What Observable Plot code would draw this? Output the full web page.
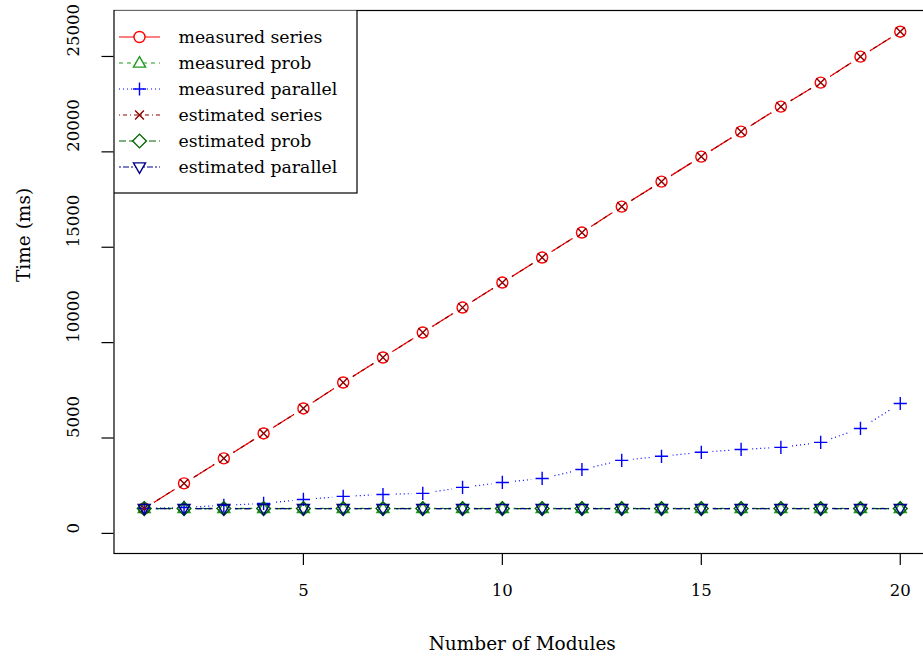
<!DOCTYPE html>
<html>
<head>
<meta charset="utf-8">
<script src="https://cdn.jsdelivr.net/npm/d3@7"></script>
<script src="https://cdn.jsdelivr.net/npm/@observablehq/plot@0.6"></script>
<style>
  html, body { margin: 0; padding: 0; background: #fff; overflow: hidden; }
  #wrap { position: relative; width: 923px; height: 659px; overflow: hidden; }
  #wrap > svg { max-width: none !important; }
</style>
</head>
<body>
<div id="wrap"></div>
<script>
// ---- data ----
const modules = [1,2,3,4,5,6,7,8,9,10,11,12,13,14,15,16,17,18,19,20];
const measuredSeries   = [1310,2620,3930,5240,6550,7910,9220,10530,11840,13150,14460,15770,17130,18440,19750,21060,22370,23630,24990,26300];
const measuredProb     = [1310,1310,1310,1310,1310,1310,1310,1310,1310,1310,1310,1310,1310,1310,1310,1310,1310,1310,1310,1310];
const measuredParallel = [1310,1360,1470,1570,1780,1940,2040,2100,2410,2670,2880,3350,3830,4040,4250,4400,4510,4770,5500,6810];
const estimatedSeries  = [1310,2620,3930,5240,6550,7910,9220,10530,11840,13150,14460,15770,17130,18440,19750,21060,22370,23630,24990,26300];
const estimatedProb    = [1300,1300,1300,1300,1300,1300,1300,1300,1300,1300,1300,1300,1300,1300,1300,1300,1300,1300,1300,1300];
const estimatedParallel= [1300,1300,1300,1300,1300,1300,1300,1300,1300,1300,1300,1300,1300,1300,1300,1300,1300,1300,1300,1300];

const seriesNames = ["measured series","measured prob","measured parallel","estimated series","estimated prob","estimated parallel"];
const seriesValues = [measuredSeries, measuredProb, measuredParallel, estimatedSeries, estimatedProb, estimatedParallel];
const seriesColors = ["#ff0000","#1f9a1f","#0000ff","#8b0000","#006400","#00008b"];
const seriesDash   = ["none","4,4","1,3","1,3,4,3","7,3","2,2,6,2"];
const seriesPch    = ["circle","triUp","plus","cross","diamond","triDown"];

const xTicks = [5,10,15,20];
const yTicks = [0,5000,10000,15000,20000,25000];
const xLabel = "Number of Modules";
const yLabel = "Time (ms)";

// ---- R-like plotting symbols ----
const rad = s => Math.sqrt(s / Math.PI);
const symbols = {
  circle:  {draw(c, s){ const r = rad(s); c.moveTo(r, 0); c.arc(0, 0, r, 0, 2*Math.PI); c.closePath(); }},
  triUp:   {draw(c, s){ const r = rad(s); c.moveTo(0, -1.15*r); c.lineTo(1.1*r, 0.75*r); c.lineTo(-1.1*r, 0.75*r); c.closePath(); }},
  triDown: {draw(c, s){ const r = rad(s); c.moveTo(0, 1.15*r); c.lineTo(1.1*r, -0.75*r); c.lineTo(-1.1*r, -0.75*r); c.closePath(); }},
  plus:    {draw(c, s){ const r = rad(s)*1.2; c.moveTo(-r, 0); c.lineTo(r, 0); c.moveTo(0, -r); c.lineTo(0, r); }},
  cross:   {draw(c, s){ const r = rad(s)*0.8; c.moveTo(-r, -r); c.lineTo(r, r); c.moveTo(-r, r); c.lineTo(r, -r); }},
  diamond: {draw(c, s){ const r = rad(s)*1.25; c.moveTo(0, -r); c.lineTo(r, 0); c.lineTo(0, r); c.lineTo(-r, 0); c.closePath(); }}
};

// ---- long table built from the arrays ----
const rows = [];
seriesNames.forEach((name, k) => {
  modules.forEach((m, i) => rows.push({series: name, k, modules: m, time: seriesValues[k][i]}));
});

const FONT = "DejaVu Serif";
const marks = [];
// lines
seriesNames.forEach((name, k) => {
  marks.push(Plot.line(rows.filter(d => d.k === k), {
    x: "modules", y: "time", stroke: seriesColors[k], strokeWidth: 1.2,
    strokeDasharray: seriesDash[k], strokeLinecap: "butt"
  }));
});
// gaps around points (R type = "b")
marks.push(Plot.dot(rows, {x: "modules", y: "time", r: 11, fill: "white", fillOpacity: 1, stroke: "none"}));
// points
seriesNames.forEach((name, k) => {
  marks.push(Plot.dot(rows.filter(d => d.k === k), {
    x: "modules", y: "time", r: 5.5, symbol: symbols[seriesPch[k]],
    stroke: seriesColors[k], strokeWidth: 1.4, fill: "none"
  }));
});
// frame and axes
marks.push(Plot.frame({stroke: "black", strokeWidth: 1.2}));
marks.push(Plot.axisX(xTicks, {tickSize: 12, tickFormat: () => "", label: null, strokeWidth: 1.2}));
marks.push(Plot.axisY(yTicks, {tickSize: 12, tickFormat: () => "", label: null, strokeWidth: 1.2}));
marks.push(Plot.text(xTicks, {x: d => d, text: d => String(d), frameAnchor: "bottom", dy: 42,
  fontSize: 16.5, fontFamily: FONT, fill: "black"}));
marks.push(Plot.text(yTicks, {y: d => d, text: d => String(d), frameAnchor: "left", dx: -40.5, rotate: -90,
  fontSize: 16.5, fontFamily: FONT, fill: "black"}));
marks.push(Plot.text([xLabel], {text: d => d, frameAnchor: "bottom", dy: 96,
  fontSize: 18.5, fontFamily: FONT, fill: "black"}));
marks.push(Plot.text([yLabel], {text: d => d, frameAnchor: "left", dx: -90, rotate: -90,
  fontSize: 18.5, fontFamily: FONT, fill: "black"}));

const chart = Plot.plot({
  width: 931, height: 659,
  marginLeft: 113.5, marginRight: 1, marginTop: 10, marginBottom: 106,
  x: {domain: [0.24, 20.76], axis: null},
  y: {domain: [-1054, 27410], axis: null},
  style: {background: "white", overflow: "visible", maxWidth: "none"},
  marks
});
const wrap = document.getElementById("wrap");
wrap.appendChild(chart);

// ---- legend (inside plot, top-left) ----
const lg = d3.create("svg").attr("id", "legend")
  .attr("width", 260).attr("height", 200)
  .style("left", "113.5px").style("top", "10px").style("position", "absolute");
lg.append("rect").attr("x", 0).attr("y", 0).attr("width", 243).attr("height", 183)
  .attr("fill", "white").attr("stroke", "black").attr("stroke-width", 1.2);
seriesNames.forEach((name, k) => {
  const cy = 27 + k * 26;
  lg.append("line").attr("x1", 5).attr("x2", 46).attr("y1", cy).attr("y2", cy)
    .attr("stroke", seriesColors[k]).attr("stroke-width", 1.2)
    .attr("stroke-dasharray", seriesDash[k] === "none" ? null : seriesDash[k]);
  lg.append("path").attr("transform", `translate(25.5,${cy})`)
    .attr("d", d3.symbol(symbols[seriesPch[k]], Math.PI * 5.5 * 5.5)())
    .attr("fill", "white").attr("stroke", seriesColors[k]).attr("stroke-width", 1.4);
  lg.append("text").attr("x", 64.5).attr("y", cy).attr("dy", "0.35em")
    .attr("font-family", FONT).attr("font-size", 17.3).attr("fill", "black").text(name);
});
wrap.appendChild(lg.node());
</script>
</body>
</html>
